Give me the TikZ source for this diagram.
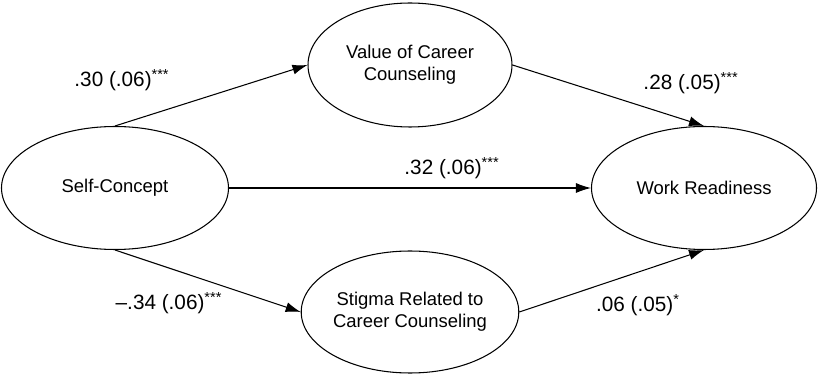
\documentclass[tikz,border=0pt]{standalone}
\usepackage{fontspec}
\setmainfont{Liberation Sans}
\usetikzlibrary{shapes.geometric,arrows.meta}

\tikzset{
  latent/.style={draw,ellipse,line width=0.6pt,inner sep=0pt,align=center,
    font=\fontsize{10.5}{12.5}\selectfont},
  path/.style={line width=0.6pt,-{Latex[length=3mm,width=2mm]}},
  est/.style={font=\fontsize{11.8}{14}\selectfont}
}

\begin{document}
\begin{tikzpicture}

\useasboundingbox (0,0) rectangle (16.38,7.48);

\node[latent,minimum width=4.54cm,minimum height=2.46cm] (self) at (2.30,3.72) {Self-Concept};
\node[latent,minimum width=4.08cm,minimum height=2.48cm] (value) at (8.20,6.18) {Value of Career\\Counseling};
\node[latent,minimum width=4.08cm,minimum height=2.44cm] (stigma) at (8.20,1.24) {Stigma Related to\\Career Counseling};
\node[latent,minimum width=4.50cm,minimum height=2.46cm] (work) at (14.08,3.72) {Work Readiness};

\draw[path] (self.north) -- (value.west);
\draw[path] (value.east) -- (work.north);
\draw[path] (self.east) -- (work.west);
\draw[path] (self.south) -- (stigma.west);
\draw[path] (stigma.east) -- (work.south);

\node[est] (e1) at (2.44,5.88) {.30 (.06)\textsuperscript{***}};
\node[est] (e2) at (13.82,5.82) {.28 (.05)\textsuperscript{***}};
\node[est] (e3) at (9.04,4.12) {.32 (.06)\textsuperscript{***}};
\node[est] (e4) at (3.38,1.42) {--.34 (.06)\textsuperscript{***}};
\node[est] (e5) at (12.76,1.38) {.06 (.05)\textsuperscript{*}};

\end{tikzpicture}
\end{document}
